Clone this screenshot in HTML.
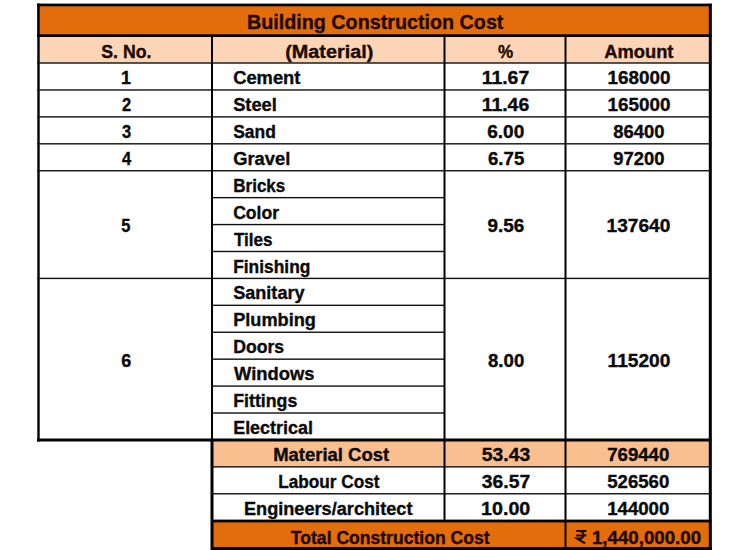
<!DOCTYPE html>
<html><head><meta charset="utf-8"><style>
html,body{margin:0;padding:0;background:#fff;width:750px;height:550px;overflow:hidden}
svg{display:block}
text{font-family:"Liberation Sans",sans-serif;font-weight:bold;stroke-width:0.35px;paint-order:stroke}
</style></head><body>
<svg width="750" height="550" viewBox="0 0 750 550">
<rect x="37" y="3.5" width="674.5" height="32.5" fill="#E36C0B"/>
<rect x="37" y="36" width="674.5" height="27" fill="#FBD5B5"/>
<rect x="211" y="439.93" width="500.5" height="26.92" fill="#F9BF8F"/>
<rect x="211" y="520.69" width="500.5" height="29.31" fill="#E36C0B"/>
<rect x="37" y="3.8" width="674.8" height="2.5" fill="#000"/>
<rect x="37.3" y="3.5" width="2.4" height="438" fill="#000"/>
<rect x="708.8" y="3.8" width="3" height="546.2" fill="#000"/>
<rect x="37" y="34.3" width="674.5" height="2.7" fill="#000"/>
<rect x="37" y="62.3" width="674.5" height="1.4" fill="#111"/>
<rect x="37" y="89.27" width="674.5" height="1.4" fill="#111"/>
<rect x="37" y="116.19" width="674.5" height="1.4" fill="#111"/>
<rect x="37" y="143.11" width="674.5" height="1.4" fill="#111"/>
<rect x="37" y="170.03" width="674.5" height="1.4" fill="#111"/>
<rect x="212" y="196.95" width="232.5" height="1.4" fill="#111"/>
<rect x="212" y="223.87" width="232.5" height="1.4" fill="#111"/>
<rect x="212" y="250.79" width="232.5" height="1.4" fill="#111"/>
<rect x="37" y="277.71" width="674.5" height="1.4" fill="#111"/>
<rect x="212" y="304.63" width="232.5" height="1.4" fill="#111"/>
<rect x="212" y="331.55" width="232.5" height="1.4" fill="#111"/>
<rect x="212" y="358.47" width="232.5" height="1.4" fill="#111"/>
<rect x="212" y="385.39" width="232.5" height="1.4" fill="#111"/>
<rect x="212" y="412.31" width="232.5" height="1.4" fill="#111"/>
<rect x="37" y="438.5" width="674.5" height="3" fill="#000"/>
<rect x="211" y="466.15" width="500.5" height="1.4" fill="#111"/>
<rect x="211" y="493.07" width="500.5" height="1.4" fill="#111"/>
<rect x="211" y="519.6" width="500.5" height="2.8" fill="#000"/>
<rect x="211" y="547" width="500.8" height="3" fill="#000"/>
<rect x="211" y="36" width="2" height="405" fill="#000"/>
<rect x="210.5" y="440" width="3" height="110" fill="#000"/>
<rect x="443.5" y="36" width="2" height="485" fill="#000"/>
<rect x="564.5" y="36" width="2" height="514" fill="#000"/>
<text x="246.96" y="29.2" font-size="20.4" fill="#1e0800" stroke="#1e0800" textLength="256.48" lengthAdjust="spacingAndGlyphs">Building Construction Cost</text>
<text x="101.32" y="57.8" font-size="17.5" fill="#1e0800" stroke="#1e0800" textLength="50.16" lengthAdjust="spacingAndGlyphs">S. No.</text>
<text x="285.2" y="58.1" font-size="17.5" fill="#1e0800" stroke="#1e0800" textLength="88.16" lengthAdjust="spacingAndGlyphs">(Material)</text>
<text x="497.88" y="57.8" font-size="17.5" fill="#1e0800" stroke="#1e0800" textLength="15.18" lengthAdjust="spacingAndGlyphs">%</text>
<text x="604.2" y="57.8" font-size="17.5" fill="#1e0800" stroke="#1e0800" textLength="69.3" lengthAdjust="spacingAndGlyphs">Amount</text>
<text x="121.08" y="84.11" font-size="17.5" fill="#0a0a0a" stroke="#0a0a0a" textLength="9.98" lengthAdjust="spacingAndGlyphs">1</text>
<text x="233.2" y="84.11" font-size="17.5" fill="#0a0a0a" stroke="#0a0a0a" textLength="67.24" lengthAdjust="spacingAndGlyphs">Cement</text>
<text x="481.7" y="84.11" font-size="17.5" fill="#0a0a0a" stroke="#0a0a0a" textLength="47.54" lengthAdjust="spacingAndGlyphs">11.67</text>
<text x="607.58" y="84.11" font-size="17.5" fill="#0a0a0a" stroke="#0a0a0a" textLength="62.84" lengthAdjust="spacingAndGlyphs">168000</text>
<text x="121.88" y="111.03" font-size="17.5" fill="#0a0a0a" stroke="#0a0a0a" textLength="9.18" lengthAdjust="spacingAndGlyphs">2</text>
<text x="233.2" y="111.03" font-size="17.5" fill="#0a0a0a" stroke="#0a0a0a" textLength="43.6" lengthAdjust="spacingAndGlyphs">Steel</text>
<text x="481.7" y="111.03" font-size="17.5" fill="#0a0a0a" stroke="#0a0a0a" textLength="47.54" lengthAdjust="spacingAndGlyphs">11.46</text>
<text x="607.58" y="111.03" font-size="17.5" fill="#0a0a0a" stroke="#0a0a0a" textLength="62.84" lengthAdjust="spacingAndGlyphs">165000</text>
<text x="121.88" y="137.95" font-size="17.5" fill="#0a0a0a" stroke="#0a0a0a" textLength="9.18" lengthAdjust="spacingAndGlyphs">3</text>
<text x="233.2" y="137.95" font-size="17.5" fill="#0a0a0a" stroke="#0a0a0a" textLength="42.6" lengthAdjust="spacingAndGlyphs">Sand</text>
<text x="487.2" y="137.95" font-size="17.5" fill="#0a0a0a" stroke="#0a0a0a" textLength="37.04" lengthAdjust="spacingAndGlyphs">6.00</text>
<text x="613.38" y="137.95" font-size="17.5" fill="#0a0a0a" stroke="#0a0a0a" textLength="51.24" lengthAdjust="spacingAndGlyphs">86400</text>
<text x="121.88" y="164.87" font-size="17.5" fill="#0a0a0a" stroke="#0a0a0a" textLength="9.18" lengthAdjust="spacingAndGlyphs">4</text>
<text x="233.2" y="164.87" font-size="17.5" fill="#0a0a0a" stroke="#0a0a0a" textLength="57.16" lengthAdjust="spacingAndGlyphs">Gravel</text>
<text x="488" y="164.87" font-size="17.5" fill="#0a0a0a" stroke="#0a0a0a" textLength="36.24" lengthAdjust="spacingAndGlyphs">6.75</text>
<text x="613.38" y="164.87" font-size="17.5" fill="#0a0a0a" stroke="#0a0a0a" textLength="51.24" lengthAdjust="spacingAndGlyphs">97200</text>
<text x="233.2" y="191.79" font-size="17.5" fill="#0a0a0a" stroke="#0a0a0a" textLength="52.16" lengthAdjust="spacingAndGlyphs">Bricks</text>
<text x="233.2" y="218.71" font-size="17.5" fill="#0a0a0a" stroke="#0a0a0a" textLength="45.8" lengthAdjust="spacingAndGlyphs">Color</text>
<text x="234" y="245.63" font-size="17.5" fill="#0a0a0a" stroke="#0a0a0a" textLength="38.56" lengthAdjust="spacingAndGlyphs">Tiles</text>
<text x="233.2" y="272.55" font-size="17.5" fill="#0a0a0a" stroke="#0a0a0a" textLength="77.16" lengthAdjust="spacingAndGlyphs">Finishing</text>
<text x="121.32" y="231.67" font-size="17.5" fill="#0a0a0a" stroke="#0a0a0a" textLength="9.18" lengthAdjust="spacingAndGlyphs">5</text>
<text x="487.44" y="231.67" font-size="17.5" fill="#0a0a0a" stroke="#0a0a0a" textLength="36.74" lengthAdjust="spacingAndGlyphs">9.56</text>
<text x="606.52" y="231.67" font-size="17.5" fill="#0a0a0a" stroke="#0a0a0a" textLength="63.84" lengthAdjust="spacingAndGlyphs">137640</text>
<text x="233.2" y="299.47" font-size="17.5" fill="#0a0a0a" stroke="#0a0a0a" textLength="71.36" lengthAdjust="spacingAndGlyphs">Sanitary</text>
<text x="233.2" y="326.39" font-size="17.5" fill="#0a0a0a" stroke="#0a0a0a" textLength="82.78" lengthAdjust="spacingAndGlyphs">Plumbing</text>
<text x="233.2" y="353.31" font-size="17.5" fill="#0a0a0a" stroke="#0a0a0a" textLength="50.92" lengthAdjust="spacingAndGlyphs">Doors</text>
<text x="234" y="380.23" font-size="17.5" fill="#0a0a0a" stroke="#0a0a0a" textLength="80.48" lengthAdjust="spacingAndGlyphs">Windows</text>
<text x="233.2" y="407.15" font-size="17.5" fill="#0a0a0a" stroke="#0a0a0a" textLength="64.1" lengthAdjust="spacingAndGlyphs">Fittings</text>
<text x="233.2" y="434.07" font-size="17.5" fill="#0a0a0a" stroke="#0a0a0a" textLength="79.72" lengthAdjust="spacingAndGlyphs">Electrical</text>
<text x="121.32" y="366.87" font-size="17.5" fill="#0a0a0a" stroke="#0a0a0a" textLength="9.98" lengthAdjust="spacingAndGlyphs">6</text>
<text x="488" y="366.87" font-size="17.5" fill="#0a0a0a" stroke="#0a0a0a" textLength="36.24" lengthAdjust="spacingAndGlyphs">8.00</text>
<text x="607.58" y="366.87" font-size="17.5" fill="#0a0a0a" stroke="#0a0a0a" textLength="62.84" lengthAdjust="spacingAndGlyphs">115200</text>
<text x="273.2" y="460.99" font-size="17.5" fill="#0a0a0a" stroke="#0a0a0a" textLength="115.92" lengthAdjust="spacingAndGlyphs">Material Cost</text>
<text x="481.88" y="460.99" font-size="17.5" fill="#0a0a0a" stroke="#0a0a0a" textLength="48.36" lengthAdjust="spacingAndGlyphs">53.43</text>
<text x="607.2" y="460.99" font-size="17.5" fill="#0a0a0a" stroke="#0a0a0a" textLength="62.16" lengthAdjust="spacingAndGlyphs">769440</text>
<text x="278.2" y="487.91" font-size="17.5" fill="#0a0a0a" stroke="#0a0a0a" textLength="101.42" lengthAdjust="spacingAndGlyphs">Labour Cost</text>
<text x="481.88" y="487.91" font-size="17.5" fill="#0a0a0a" stroke="#0a0a0a" textLength="48.36" lengthAdjust="spacingAndGlyphs">36.57</text>
<text x="607.2" y="487.91" font-size="17.5" fill="#0a0a0a" stroke="#0a0a0a" textLength="62.16" lengthAdjust="spacingAndGlyphs">526560</text>
<text x="243.96" y="514.83" font-size="17.5" fill="#0a0a0a" stroke="#0a0a0a" textLength="168.48" lengthAdjust="spacingAndGlyphs">Engineers/architect</text>
<text x="481.08" y="514.83" font-size="17.5" fill="#0a0a0a" stroke="#0a0a0a" textLength="49.16" lengthAdjust="spacingAndGlyphs">10.00</text>
<text x="607.2" y="514.83" font-size="17.5" fill="#0a0a0a" stroke="#0a0a0a" textLength="62.16" lengthAdjust="spacingAndGlyphs">144000</text>
<text x="290.88" y="543.6" font-size="17.5" fill="#1e0800" stroke="#1e0800" textLength="198.62" lengthAdjust="spacingAndGlyphs">Total Construction Cost</text>
<text x="591.9" y="543.6" font-size="17.5" fill="#1e0800" stroke="#1e0800" textLength="109.22" lengthAdjust="spacingAndGlyphs">1,440,000.00</text>
<g fill="none" stroke="#1e0800" stroke-width="2.2" stroke-linecap="butt"><path d="M576.3 531H586.4M576.3 535.5H586.4M579.2 531C584.8 531 585 538.6 579.2 538.6H577.2L585 543.4"/></g>
</svg>
</body></html>
